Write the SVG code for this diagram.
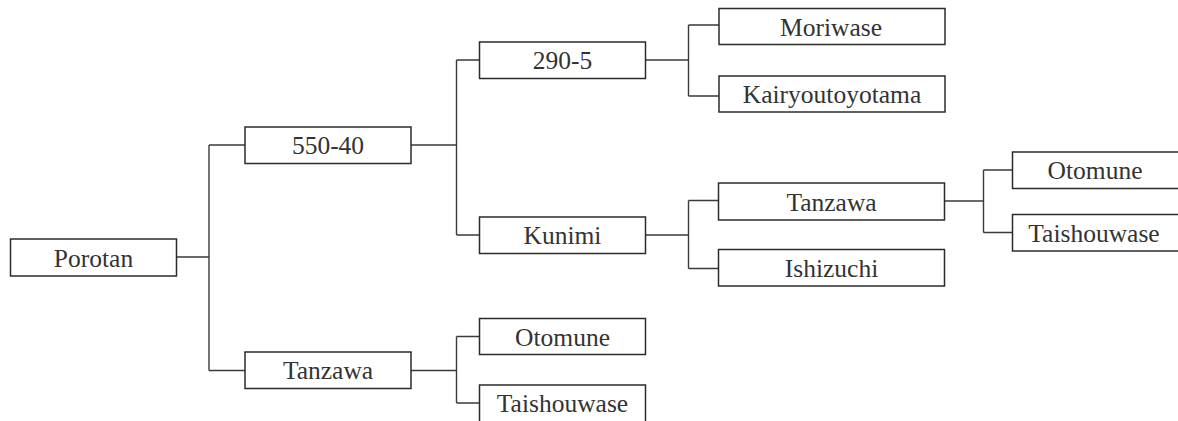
<svg xmlns="http://www.w3.org/2000/svg" width="1178" height="421" viewBox="0 0 1178 421">
<style>
  .box rect { fill: #ffffff; stroke: #2b2b2b; stroke-width: 1.5; }
  .box text { font-family: "Liberation Serif", "DejaVu Serif", serif; font-size: 25.5px; fill: #333333; text-anchor: middle; }
  #connectors path { fill: none; stroke: #3a3a3a; stroke-width: 1.4; }
</style>
<rect width="1178" height="421" fill="#ffffff"/>
<g id="connectors">
  <path d="M176.5 257 H209 M209 145 V370.5 M209 145 H245 M209 370.5 H245"/>
  <path d="M411 145 H456.5 M456.5 60 V235 M456.5 60 H479.5 M456.5 235 H479.5"/>
  <path d="M411 370.5 H456.5 M456.5 336.5 V403 M456.5 336.5 H479.5 M456.5 403 H479.5"/>
  <path d="M645.5 60 H688.5 M688.5 25 V96 M688.5 25 H719 M688.5 96 H719"/>
  <path d="M645.5 235 H688.5 M688.5 200.5 V268.5 M688.5 200.5 H718.5 M688.5 268.5 H718.5"/>
  <path d="M944.5 201 H983.5 M983.5 170 V232.5 M983.5 170 H1012.5 M983.5 232.5 H1012.5"/>
</g>
<g id="porotan" class="box"><rect x="10.5" y="239" width="166" height="37"/><text x="93.5" y="266.5">Porotan</text></g>
<g id="n550-40" class="box"><rect x="245" y="127" width="166" height="36.5"/><text x="328" y="154">550-40</text></g>
<g id="tanzawa-b" class="box"><rect x="245" y="352" width="166" height="36.5"/><text x="328" y="379.3">Tanzawa</text></g>
<g id="n290-5" class="box"><rect x="479.5" y="42" width="166" height="36.5"/><text x="562.5" y="69">290-5</text></g>
<g id="kunimi" class="box"><rect x="479.5" y="217" width="166" height="36.5"/><text x="562.5" y="244">Kunimi</text></g>
<g id="otomune-b" class="box"><rect x="479.5" y="318.5" width="166" height="36"/><text x="562.5" y="345.5">Otomune</text></g>
<g id="taishouwase-b" class="box"><rect x="479.5" y="385" width="166" height="40"/><text x="562.5" y="412">Taishouwase</text></g>
<g id="moriwase" class="box"><rect x="719" y="8.5" width="226" height="36"/><text x="831" y="35.5">Moriwase</text></g>
<g id="kairyoutoyotama" class="box"><rect x="719" y="76" width="226" height="36"/><text x="832" y="103">Kairyoutoyotama</text></g>
<g id="tanzawa-m" class="box"><rect x="718.5" y="183" width="226" height="37"/><text x="831.5" y="210.5">Tanzawa</text></g>
<g id="ishizuchi" class="box"><rect x="718.5" y="249.5" width="226" height="36.5"/><text x="831.5" y="277">Ishizuchi</text></g>
<g id="otomune-r" class="box"><rect x="1012.5" y="152" width="170" height="36.5"/><text x="1095" y="179">Otomune</text></g>
<g id="taishouwase-r" class="box"><rect x="1012.5" y="214.5" width="170" height="36.5"/><text x="1094" y="241.5">Taishouwase</text></g>
</svg>
